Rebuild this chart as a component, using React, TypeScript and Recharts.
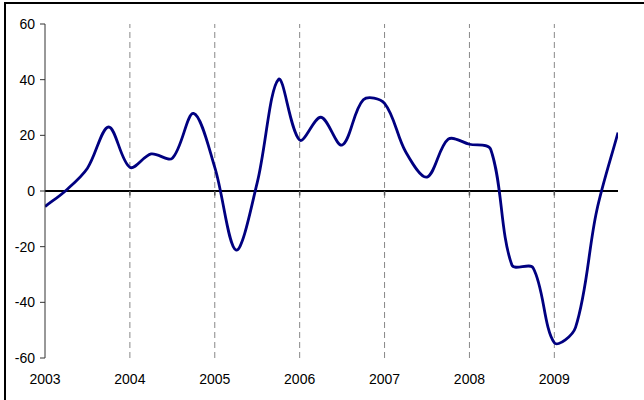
import { LineChart, Line, XAxis, YAxis, ReferenceLine } from 'recharts';

// quarterly observations, decimal year
const quarters = [
  2003, 2003.25, 2003.5, 2003.75,
  2004, 2004.25, 2004.5, 2004.75,
  2005, 2005.25, 2005.5, 2005.75,
  2006, 2006.25, 2006.5, 2006.75,
  2007, 2007.25, 2007.5, 2007.75,
  2008, 2008.25, 2008.5, 2008.75,
  2009, 2009.25, 2009.5, 2009.75,
];

const values = [
  -5.6, 0.3, 8.2, 23,
  8.5, 13.3, 11.8, 27.9,
  8.5, -21.2, 3, 40.1,
  18.3, 26.5, 16.5, 32.8,
  31.5, 14, 5, 18.6,
  16.8, 15, -26.6, -27.6,
  -54.5, -49, -7, 21,
];

const yearTicks = [2003, 2004, 2005, 2006, 2007, 2008, 2009];
const valueTicks = [-60, -40, -20, 0, 20, 40, 60];

const data = quarters.map((t, i) => ({ t, v: values[i] }));

// Excel-like smoothed line: tangent split by neighbouring segment lengths
const excelSmooth = (context: any) => {
  let xs: number[] = [];
  let ys: number[] = [];
  return {
    areaStart() {},
    areaEnd() {},
    lineStart() {
      xs = [];
      ys = [];
    },
    lineEnd() {
      const n = xs.length;
      if (!n) return;
      const dist = (a: number, b: number) => Math.hypot(xs[b] - xs[a], ys[b] - ys[a]);
      const cin: number[][] = [];
      const cout: number[][] = [];
      for (let i = 0; i < n; i++) {
        const p = Math.max(i - 1, 0);
        const q = Math.min(i + 1, n - 1);
        const tx = xs[q] - xs[p];
        const ty = ys[q] - ys[p];
        const d0 = dist(p, i);
        const d1 = dist(i, q);
        const s = d0 + d1 || 1;
        cin.push([xs[i] - (tx * d0) / (3 * s), ys[i] - (ty * d0) / (3 * s)]);
        cout.push([xs[i] + (tx * d1) / (3 * s), ys[i] + (ty * d1) / (3 * s)]);
      }
      context.moveTo(xs[0], ys[0]);
      for (let i = 0; i < n - 1; i++) {
        context.bezierCurveTo(cout[i][0], cout[i][1], cin[i + 1][0], cin[i + 1][1], xs[i + 1], ys[i + 1]);
      }
    },
    point(x: number, y: number) {
      xs.push(+x);
      ys.push(+y);
    },
  };
};

const font = { fontFamily: '"Liberation Sans", Arial, sans-serif', fontSize: 14, fill: '#000' };

export default function App() {
  return (
    <div style={{ position: 'fixed', left: 0, top: 0, width: 644, height: 400, overflow: 'hidden', background: '#fff' }}>
      <div
        style={{
          position: 'absolute',
          left: 4,
          top: 2,
          width: 700,
          height: 500,
          border: '2px solid #000',
        }}
      />
      <div style={{ position: 'absolute', left: 0, top: 0 }}>
        <LineChart width={644} height={400} data={data} margin={{ top: 24, right: 26, left: 0, bottom: 12 }}>
          {yearTicks.slice(1).map((yr) => (
            <ReferenceLine key={`g${yr}`} x={yr} stroke="#888" strokeDasharray="6 4" />
          ))}
          <XAxis
            dataKey="t"
            type="number"
            domain={[2003, 2009.75]}
            ticks={yearTicks}
            allowDataOverflow
            axisLine={false}
            tickLine={false}
            tickSize={6}
            tickMargin={10}
            height={30}
            tick={font}
            interval={0}
          />
          <YAxis
            domain={[-60, 60]}
            ticks={valueTicks}
            width={45}
            stroke="#333"
            tickSize={5}
            tickMargin={5}
            tick={font}
            interval={0}
          />
          <ReferenceLine y={0} stroke="#000" strokeWidth={1.2} shapeRendering="crispEdges" />
          {yearTicks.slice(1).map((yr) => (
            <ReferenceLine
              key={yr}
              segment={[{ x: yr, y: 0 }, { x: yr, y: -1.6 }]}
              stroke="#555"
              strokeWidth={1.5}
            />
          ))}
          <Line
            type={excelSmooth as any}
            dataKey="v"
            stroke="#000080"
            strokeWidth={2.8}
            dot={false}
            activeDot={false}
            isAnimationActive={false}
          />
        </LineChart>
      </div>
    </div>
  );
}
